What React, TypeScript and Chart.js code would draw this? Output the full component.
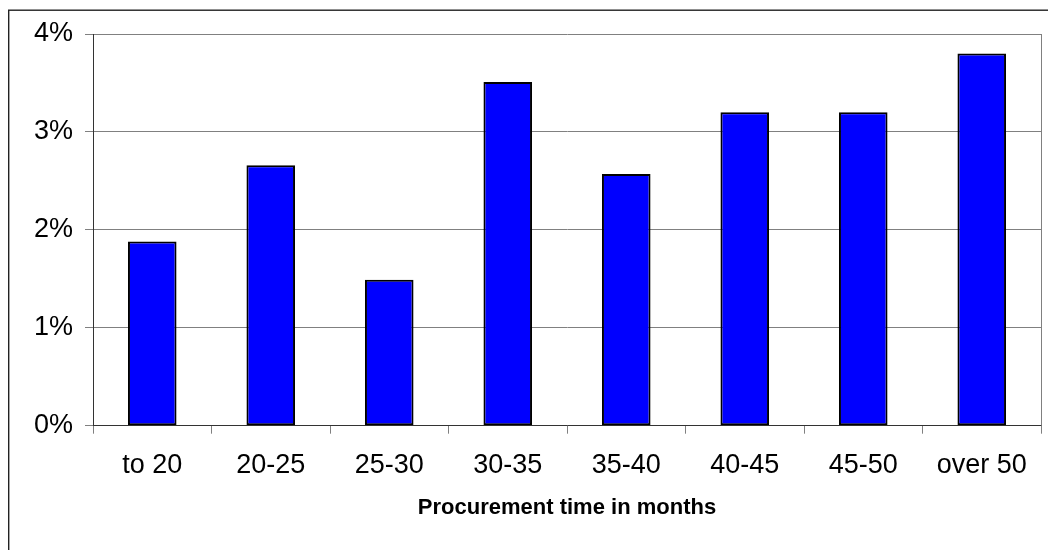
import React, { useEffect, useRef } from "react";
import { Chart, registerables } from "chart.js";

Chart.register(...registerables);

const categories = ["to 20", "20-25", "25-30", "30-35", "35-40", "40-45", "45-50", "over 50"];
const shareValues = [1.88, 2.66, 1.49, 3.51, 2.57, 3.2, 3.2, 3.8];
const yTickValues = [0, 1, 2, 3, 4];
const xAxisTitle = "Procurement time in months";

const FONT = "'Liberation Sans', Arial, sans-serif";

const framePlugin = {
  id: "frame",
  beforeDatasetsDraw(chart: any) {
    const { ctx, chartArea } = chart;
    ctx.save();
    ctx.strokeStyle = "#808080";
    ctx.lineWidth = 1;
    ctx.beginPath();
    const rx = Math.round(chartArea.right) + 0.5;
    ctx.moveTo(rx, chartArea.top);
    ctx.lineTo(rx, chartArea.bottom);
    ctx.stroke();
    ctx.restore();
  },
  afterDraw(chart: any) {
    const { ctx } = chart;
    ctx.save();
    ctx.strokeStyle = "#222222";
    ctx.lineWidth = 1.4;
    ctx.strokeRect(8.7, 10.2, 1200, 800);
    ctx.restore();
  },
};

export default function App() {
  const canvasRef = useRef<HTMLCanvasElement | null>(null);

  useEffect(() => {
    if (!canvasRef.current) return;
    const chart = new Chart(canvasRef.current, {
      type: "bar",
      data: {
        labels: categories,
        datasets: [
          {
            data: shareValues,
            backgroundColor: "#0000FF",
            borderColor: "#000000",
            borderWidth: 2,
            borderSkipped: false,
            barPercentage: 0.41,
            categoryPercentage: 1,
          },
        ],
      },
      options: {
        responsive: false,
        animation: false,
        devicePixelRatio: 1,
        layout: { padding: { left: 0, top: 34, right: 7, bottom: 0 } },
        plugins: {
          legend: { display: false },
          tooltip: { enabled: false },
        },
        scales: {
          x: {
            offset: true,
            grid: {
              display: true,
              offset: true,
              drawOnChartArea: false,
              drawTicks: true,
              tickLength: 8,
              color: "#808080",
            },
            border: { display: true, color: "#333333", width: 1 },
            ticks: {
              color: "#000000",
              padding: 16,
              font: { family: FONT, size: 27 },
            },
            title: {
              display: true,
              text: xAxisTitle,
              color: "#000000",
              font: { family: FONT, size: 22, weight: "bold" },
              padding: { top: 0, bottom: 29 },
            },
            afterFit: (s: any) => {
              s.height = 124.3;
            },
          },
          y: {
            min: 0,
            max: 4,
            afterBuildTicks: (s: any) => {
              s.ticks = yTickValues.map((v) => ({ value: v }));
            },
            grid: {
              color: "#808080",
              drawTicks: true,
              tickLength: 8,
            },
            border: { display: true, color: "#333333", width: 1 },
            ticks: {
              color: "#000000",
              padding: 12,
              font: { family: FONT, size: 27 },
              callback: (v: any) => v + "%",
            },
            afterFit: (s: any) => {
              s.width = 93;
            },
          },
        },
      },
      plugins: [framePlugin],
    });
    return () => chart.destroy();
  }, []);

  return (
    <div style={{ position: "absolute", left: 0, top: 0, width: 1048, height: 550, background: "#ffffff" }}>
      <canvas ref={canvasRef} width={1048} height={550} style={{ display: "block" }} />
    </div>
  );
}
